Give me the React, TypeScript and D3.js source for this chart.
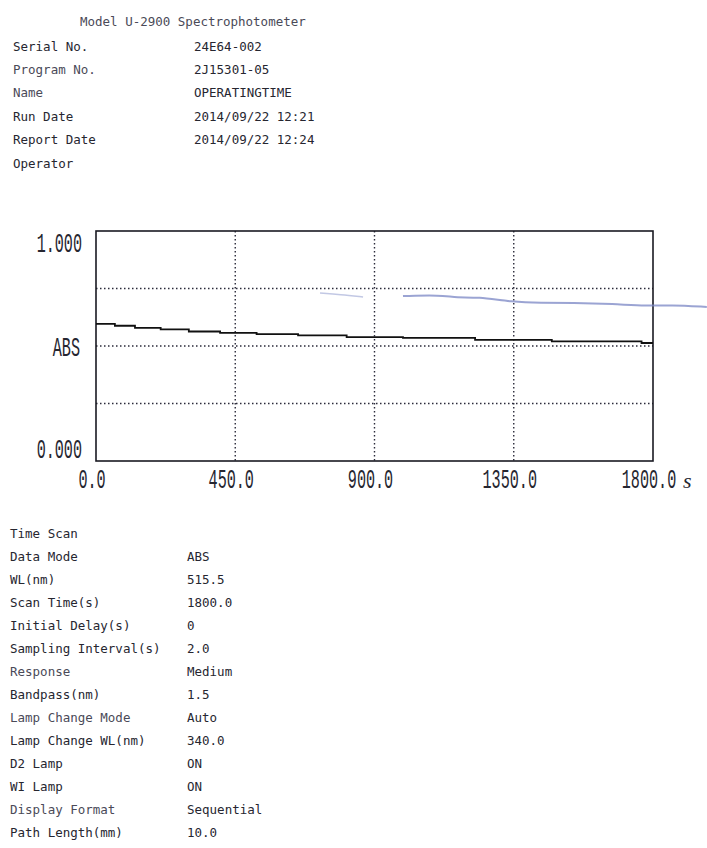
import React from "react";
import * as d3 from "d3";

const headerTitle = "Model U-2900 Spectrophotometer";
const headerLabels = ["Serial No.", "Program No.", "Name", "Run Date", "Report Date", "Operator"];
const headerValues = ["24E64-002", "2J15301-05", "OPERATINGTIME", "2014/09/22 12:21", "2014/09/22 12:24", ""];

const paramLabels = [
  "Time Scan", "Data Mode", "WL(nm)", "Scan Time(s)", "Initial Delay(s)",
  "Sampling Interval(s)", "Response", "Bandpass(nm)", "Lamp Change Mode",
  "Lamp Change WL(nm)", "D2 Lamp", "WI Lamp", "Display Format", "Path Length(mm)",
];
const paramValues = [
  "", "ABS", "515.5", "1800.0", "0", "2.0", "Medium", "1.5", "Auto",
  "340.0", "ON", "ON", "Sequential", "10.0",
];

// time (s) and absorbance of the stepped trace
const times = [0, 61, 126, 209, 300, 401, 519, 653, 810, 992, 1225, 1473, 1763, 1800];
const absValues = [0.596, 0.588, 0.579, 0.572, 0.563, 0.557, 0.552, 0.546, 0.539, 0.535, 0.527, 0.52, 0.513, 0.513];

// faint hand-drawn ink mark across the printout
const inkTimes = [992, 1112, 1167, 1231, 1348, 1435, 1541, 1671, 1781, 1855, 1974];
const inkValues = [0.717, 0.722, 0.709, 0.714, 0.691, 0.687, 0.688, 0.683, 0.674, 0.678, 0.67];
const inkTimes2 = [724, 790, 863];
const inkValues2 = [0.73, 0.724, 0.713];

const xTicks = [0, 450, 900, 1350, 1800];
const xTickLabels = ["0.0", "450.0", "900.0", "1350.0", "1800.0"];
const yGrid = [0.25, 0.5, 0.75];

const W = 707;
const H = 848;
const M = { left: 96, right: 653, top: 231, bottom: 461 };

const axisFont = "'Liberation Mono', monospace";
const textCol = "#262630";

function Squeezed({ x, y, text, anchor }: { x: number; y: number; text: string; anchor: "start" | "middle" | "end" }) {
  return (
    <g transform={`translate(${x},${y}) scale(0.56,1)`}>
      <text x={0} y={0} fontFamily={axisFont} fontSize={27} fill={textCol} textAnchor={anchor}>
        {text}
      </text>
    </g>
  );
}

export default function App() {
  const x = d3.scaleLinear().domain([0, 1800]).range([M.left, M.right]);
  const y = d3.scaleLinear().domain([0, 1]).range([M.bottom, M.top]);

  const line = d3
    .line<number>()
    .x((_, i) => x(times[i]))
    .y((d) => y(d))
    .curve(d3.curveStepAfter);

  const inkLine = (ts: number[]) =>
    d3
      .line<number>()
      .x((_, i) => x(ts[i]))
      .y((d) => y(d))
      .curve(d3.curveBasis);

  const mono = "'DejaVu Sans Mono', monospace";
  const lightCol = "#4a4a58";
  const lightRows = new Set(["Program No.", "Response", "Lamp Change Mode", "Display Format", "Name"]);

  return (
    <svg
      width={W}
      height={H}
      style={{ position: "absolute", left: 0, top: 0, background: "#fff" }}
      xmlns="http://www.w3.org/2000/svg"
    >
      <rect x={0} y={0} width={W} height={H} fill="#fff" />

      {/* header */}
      <text x={80} y={21} fontFamily={mono} fontSize={12.5} fill={lightCol} dominantBaseline="central">
        {headerTitle}
      </text>
      {headerLabels.map((l, i) => (
        <g key={l}>
          <text x={13} y={46 + i * 23.4} fontFamily={mono} fontSize={12.5}
            fill={lightRows.has(l) ? lightCol : textCol} dominantBaseline="central">
            {l}
          </text>
          <text x={194} y={46 + i * 23.4} fontFamily={mono} fontSize={12.5} fill={textCol} dominantBaseline="central">
            {headerValues[i]}
          </text>
        </g>
      ))}

      {/* grid */}
      {yGrid.map((v) => (
        <line key={"h" + v} x1={M.left} x2={M.right} y1={y(v)} y2={y(v)}
          stroke="#2a2a3a" strokeWidth={1.4} strokeDasharray="1.5 2.5" />
      ))}
      {xTicks.slice(1, -1).map((t) => (
        <line key={"v" + t} x1={x(t)} x2={x(t)} y1={M.top} y2={M.bottom}
          stroke="#2a2a3a" strokeWidth={1.4} strokeDasharray="1.5 2.5" />
      ))}

      {/* frame */}
      <rect x={M.left} y={M.top} width={M.right - M.left} height={M.bottom - M.top}
        fill="none" stroke="#1a1a22" strokeWidth={1.6} />

      {/* ink marks */}
      <path d={inkLine(inkTimes)(inkValues) || ""} fill="none" stroke="#7a86c4" strokeOpacity={0.75} strokeWidth={2} />
      <path d={inkLine(inkTimes2)(inkValues2) || ""} fill="none" stroke="#9aa4d2" strokeOpacity={0.6} strokeWidth={1.5} />

      {/* data */}
      <path d={line(absValues) || ""} fill="none" stroke="#111" strokeWidth={1.8} />

      {/* y labels */}
      <Squeezed x={82} y={y(1) + 20.5} text="1.000" anchor="end" />
      <Squeezed x={80} y={y(0.5) + 9.5} text="ABS" anchor="end" />
      <Squeezed x={82} y={y(0) - 3.5} text="0.000" anchor="end" />

      {/* x labels */}
      {xTicks.map((t, i) => (
        <Squeezed key={"xl" + t} x={x(t) - 4} y={y(0) + 27} text={xTickLabels[i]} anchor="middle" />
      ))}
      <text x={683} y={y(0) + 27} fontFamily="'Liberation Serif', serif" fontStyle="italic"
        fontSize={22} fill={textCol}>s</text>

      {/* parameters */}
      {paramLabels.map((l, i) => (
        <g key={l}>
          <text x={10} y={533 + i * 23} fontFamily={mono} fontSize={12.5}
            fill={lightRows.has(l) ? lightCol : textCol} dominantBaseline="central">
            {l}
          </text>
          <text x={187} y={533 + i * 23} fontFamily={mono} fontSize={12.5} fill={textCol} dominantBaseline="central">
            {paramValues[i]}
          </text>
        </g>
      ))}
    </svg>
  );
}
